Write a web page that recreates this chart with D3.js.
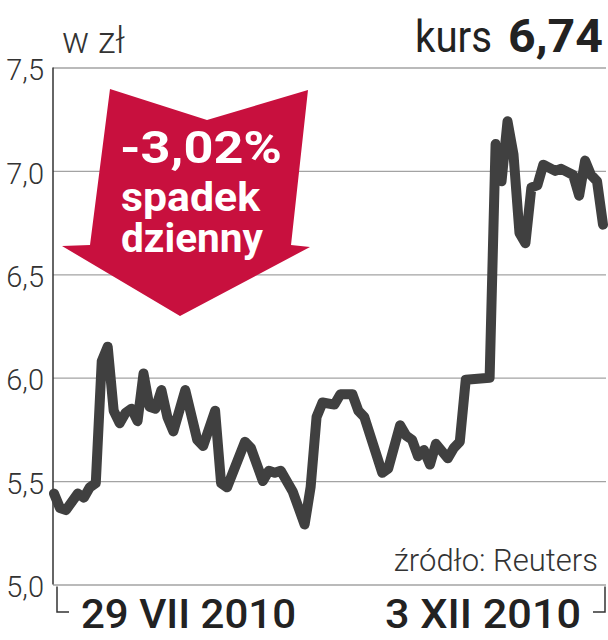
<!DOCTYPE html>
<html>
<head>
    <meta charset="utf-8">
    <title>Kurs 6,74</title>
    <script src="https://d3js.org/d3.v7.min.js"></script>
    <style>
        body { margin: 0; background: #fff; }
    </style>
</head>
<body>
    <script>
        // notowania: numer sesji i kurs zamkniecia
        var days = [0, 1, 2, 4, 5, 6, 7, 8, 9, 10, 11, 12, 13, 14, 15, 16, 17, 18, 19, 20,
            22, 24, 25, 27, 28, 29, 32, 33, 35, 36, 37, 38, 40, 42, 43, 44, 45, 47, 48, 50,
            51, 52, 55, 56, 58, 59, 60, 61, 62, 63, 64, 66, 67, 68, 69, 73, 74, 75, 76, 77,
            78, 79, 80, 81, 82, 84, 85, 87, 88, 89, 90, 91, 92];
        var prices = [5.44, 5.37, 5.36, 5.44, 5.42, 5.47, 5.49, 6.08, 6.15, 5.84, 5.78, 5.83, 5.85, 5.79, 6.02, 5.86, 5.85, 5.94, 5.81, 5.74,
            5.94, 5.70, 5.67, 5.84, 5.49, 5.47, 5.69, 5.66, 5.50, 5.55, 5.54, 5.55, 5.45, 5.29, 5.47, 5.81, 5.88, 5.87, 5.92, 5.92,
            5.84, 5.81, 5.54, 5.56, 5.77, 5.72, 5.70, 5.62, 5.65, 5.58, 5.68, 5.61, 5.66, 5.69, 5.99, 6.00, 7.13, 6.95, 7.24, 7.08,
            6.70, 6.65, 6.92, 6.93, 7.03, 7.00, 7.01, 6.98, 6.88, 7.05, 6.98, 6.95, 6.74];
        var yTicks = [5.0, 5.5, 6.0, 6.5, 7.0, 7.5];
        var xLabels = ["29 VII 2010", "3 XII 2010"];
        var lastPrice = "6,74";
        var change = "-3,02%";

        var width = 608;
        var height = 640;
        var pLeft = 53, pRight = 606, pTop = 67.5, pBottom = 584.5;
        var font = "Roboto, 'Liberation Sans', sans-serif";

        var x = d3.scaleLinear().domain([0, 92]).range([54, 603]);
        var y = d3.scaleLinear().domain([5, 7.5]).range([pBottom, pTop]);

        var svg = d3.select("body").append("svg")
            .attr("width", width)
            .attr("height", height);

        // siatka i opisy osi Y
        var yAxis = d3.axisLeft(y)
            .tickValues(yTicks)
            .tickSize(-(pRight - pLeft))
            .tickPadding(9)
            .tickFormat(function(d) { return d3.format(".1f")(d).replace(".", ","); });

        var ga = svg.append("g")
            .attr("transform", "translate(" + pLeft + ",0)")
            .call(yAxis);
        ga.select(".domain").remove();
        ga.selectAll(".tick line")
            .attr("stroke", "#a3a3a3")
            .attr("stroke-width", 1.3);
        ga.selectAll(".tick text")
            .attr("fill", "#333")
            .attr("dy", "0.42em")
            .style("font-family", font)
            .style("font-weight", 300)
            .style("font-size", "29px");

        svg.append("line")
            .attr("x1", pLeft).attr("x2", pLeft)
            .attr("y1", pTop).attr("y2", pBottom)
            .attr("stroke", "#333")
            .attr("stroke-width", 1.5);

        // strzalka
        var arrow = [[110, 89], [207, 120], [308, 90], [291, 245], [310, 247], [180, 316], [62, 246], [90, 245]];
        svg.append("path")
            .attr("d", "M" + arrow.join("L") + "Z")
            .attr("fill", "#c8103e");

        var at = svg.append("g")
            .attr("fill", "#fff")
            .style("font-family", font)
            .style("font-weight", 700);
        at.append("text")
            .attr("x", 120).attr("y", 163)
            .attr("textLength", 162)
            .attr("lengthAdjust", "spacingAndGlyphs")
            .style("font-size", "45px")
            .text(change);
        at.append("text")
            .attr("x", 121).attr("y", 211)
            .attr("textLength", 139)
            .attr("lengthAdjust", "spacingAndGlyphs")
            .style("font-size", "40px")
            .text("spadek");
        at.append("text")
            .attr("x", 121).attr("y", 252)
            .attr("textLength", 142)
            .attr("lengthAdjust", "spacingAndGlyphs")
            .style("font-size", "40px")
            .text("dzienny");

        // linia kursu
        var line = d3.line()
            .x(function(d, i) { return x(days[i]); })
            .y(function(d) { return y(d); });

        svg.append("path")
            .datum(prices)
            .attr("d", line)
            .attr("fill", "none")
            .attr("stroke", "#404040")
            .attr("stroke-width", 10)
            .attr("stroke-linejoin", "round")
            .attr("stroke-linecap", "round");

        // naglowek
        svg.append("text")
            .attr("x", 62).attr("y", 53)
            .attr("fill", "#333")
            .style("font-family", font)
            .style("font-weight", 300)
            .style("font-size", "36px")
            .text("w zł");
        svg.append("text")
            .attr("x", 415).attr("y", 52)
            .attr("fill", "#222")
            .attr("textLength", 77)
            .attr("lengthAdjust", "spacingAndGlyphs")
            .style("font-family", font)
            .style("font-size", "44px")
            .text("kurs");
        svg.append("text")
            .attr("x", 603).attr("y", 52)
            .attr("text-anchor", "end")
            .attr("fill", "#222")
            .attr("textLength", 95)
            .attr("lengthAdjust", "spacingAndGlyphs")
            .style("font-family", font)
            .style("font-weight", 700)
            .style("font-size", "46px")
            .text(lastPrice);

        svg.append("text")
            .attr("x", 598).attr("y", 571)
            .attr("text-anchor", "end")
            .attr("fill", "#333")
            .style("font-family", font)
            .style("font-weight", 300)
            .style("font-size", "31px")
            .text("źródło: Reuters");

        // zakres dat
        var br = svg.append("g")
            .attr("fill", "none")
            .attr("stroke", "#333")
            .attr("stroke-width", 1.5);
        br.append("path").attr("d", "M57," + (pBottom + 2) + "V612H69");
        br.append("path").attr("d", "M593,612H605V" + (pBottom + 2));

        svg.append("text")
            .attr("x", 81).attr("y", 628)
            .attr("fill", "#222")
            .attr("textLength", 215)
            .attr("lengthAdjust", "spacingAndGlyphs")
            .style("font-family", font)
            .style("font-weight", 500)
            .style("font-size", "40px")
            .text(xLabels[0]);
        svg.append("text")
            .attr("x", 581).attr("y", 628)
            .attr("text-anchor", "end")
            .attr("fill", "#222")
            .attr("textLength", 196)
            .attr("lengthAdjust", "spacingAndGlyphs")
            .style("font-family", font)
            .style("font-weight", 500)
            .style("font-size", "40px")
            .text(xLabels[1]);
    </script>
</body>
</html>
